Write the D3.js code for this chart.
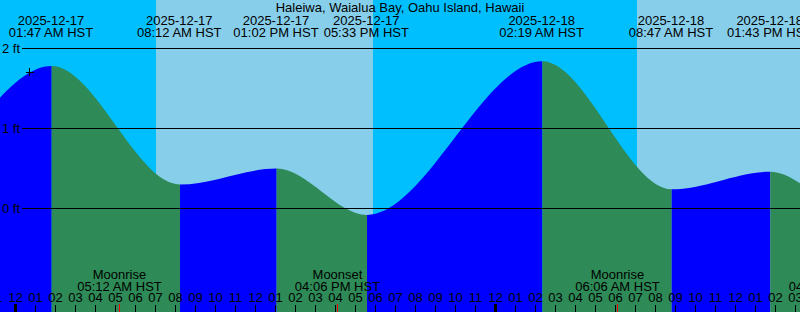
<!DOCTYPE html>
<html>
<head>
<meta charset="utf-8">
<script src="https://cdn.jsdelivr.net/npm/d3@7"></script>
<style>
  html, body { margin: 0; padding: 0; background: #00BFFF; }
  svg { display: block; }
  text { font-family: "Liberation Sans", Arial, Helvetica, sans-serif; font-size: 13px; fill: #000; }
</style>
</head>
<body>
<svg id="chart" width="800" height="312"></svg>
<script>
// ---------- data ----------
const title = "Haleiwa, Waialua Bay, Oahu Island, Hawaii";
const timeZone = "HST";
// Tide extremes (local time) and heights in feet; first/last two are just off the chart
const tideTimes = ["2025-12-16T12:00", "2025-12-16T17:11", "2025-12-17T01:47", "2025-12-17T08:12",
                   "2025-12-17T13:02", "2025-12-17T17:33", "2025-12-18T02:19", "2025-12-18T08:47",
                   "2025-12-18T13:43", "2025-12-18T17:55", "2025-12-19T02:50"];
const tideHeights = [0.55, -0.05, 1.78, 0.30, 0.50, -0.08, 1.84, 0.24, 0.46, -0.05, 1.85];
const labeledTideTimes = ["2025-12-17T01:47", "2025-12-17T08:12", "2025-12-17T13:02", "2025-12-17T17:33",
                          "2025-12-18T02:19", "2025-12-18T08:47", "2025-12-18T13:43"];
// Sun events
const sunTimes = ["2025-12-17T07:00", "2025-12-17T17:52", "2025-12-18T07:03", "2025-12-18T17:53"];
const sunKinds = ["rise", "set", "rise", "set"];
// Moon events
const moonTimes = ["2025-12-17T05:12", "2025-12-17T16:06", "2025-12-18T06:06", "2025-12-18T16:48"];
const moonKinds = ["Moonrise", "Moonset", "Moonrise", "Moonset"];
// Height levels drawn as lines
const levelTicks = [0, 1, 2];
// Current-time mark
const markTime = "2025-12-17T00:42";
const markHeight = 1.71;
// Visible window
const windowStart = "2025-12-16T23:12";
const windowEnd = "2025-12-18T15:12";

// ---------- setup ----------
const W = 800, H = 312;
const parse = d3.utcParse("%Y-%m-%dT%H:%M");
const fmtDate = d3.utcFormat("%Y-%m-%d");
const fmtTime = d3.utcFormat("%I:%M %p");
const fmtHour = d3.utcFormat("%I");

const colors = { night: "#00BFFF", day: "#87CEEB", rising: "#0000FF", falling: "#2E8B57", moon: "#FF0000" };

const t0 = parse(windowStart), t1 = parse(windowEnd);
const x = d3.scaleUtc().domain([t0, t1]).range([0, W]);
const y = d3.scaleLinear().domain([0, 2]).range([208.5, 48.5]);

const svg = d3.select("#chart");
const defs = svg.append("defs");

// ---------- day / night background ----------
const bounds = [t0, ...sunTimes.map(parse), t1].filter(d => d >= t0 && d <= t1);
bounds.sort((a, b) => a - b);
const sunIdx = sunTimes.map(parse);
svg.append("g").selectAll("rect")
  .data(d3.pairs(bounds))
  .join("rect")
  .attr("x", d => x(d[0]))
  .attr("width", d => x(d[1]) - x(d[0]))
  .attr("y", 0)
  .attr("height", H)
  .attr("fill", d => {
    // find last sun event at or before segment start
    let state = "night";
    sunIdx.forEach((s, i) => { if (s <= d[0]) state = sunKinds[i] === "rise" ? "day" : "night"; });
    return colors[state];
  })
  .attr("shape-rendering", "crispEdges");

// ---------- tide curve ----------
const tides = tideTimes.map((t, i) => ({ t: parse(t), h: tideHeights[i] }));
const area = d3.area()
  .x(d => x(d.t))
  .y0(H + 5)
  .y1(d => y(d.h))
  .curve(d3.curveMonotoneX);

const tideG = svg.append("g");
d3.pairs(tides).forEach((p, i) => {
  const id = "seg" + i;
  defs.append("clipPath").attr("id", id)
    .append("rect")
    .attr("x", x(p[0].t)).attr("width", x(p[1].t) - x(p[0].t))
    .attr("y", 0).attr("height", H + 10);
  tideG.append("path")
    .datum(tides)
    .attr("d", area)
    .attr("clip-path", `url(#${id})`)
    .attr("fill", p[1].h > p[0].h ? colors.rising : colors.falling);
});

// ---------- level lines ----------
const levelG = svg.append("g");
levelTicks.forEach(l => {
  levelG.append("line")
    .attr("x1", 22).attr("x2", W)
    .attr("y1", y(l)).attr("y2", y(l))
    .attr("stroke", "#000").attr("stroke-width", 1);
  levelG.append("text")
    .attr("x", 2).attr("y", y(l) + 4.5)
    .text(`${l} ft`);
});

// ---------- current mark ----------
const mx = Math.round(x(parse(markTime))), my = Math.round(y(markHeight));
svg.append("path")
  .attr("d", `M${mx - 4},${my + 0.5}H${mx + 4}M${mx - 0.5},${my - 4}V${my + 4}`)
  .attr("stroke", "#000").attr("stroke-width", 1).attr("fill", "none");

// ---------- title ----------
svg.append("text")
  .attr("x", W / 2).attr("y", 11.5)
  .attr("text-anchor", "middle")
  .text(title);

// ---------- tide labels ----------
const topG = svg.append("g").attr("text-anchor", "middle");
labeledTideTimes.map(parse).forEach(t => {
  const cx = x(t) - 0.7;
  topG.append("text").attr("x", cx).attr("y", 24.5).text(fmtDate(t));
  topG.append("text").attr("x", cx).attr("y", 36.5).text(`${fmtTime(t)} ${timeZone}`);
});

// ---------- hour ticks ----------
const hours = d3.utcHour.range(d3.utcHour.offset(t0, -1), d3.utcHour.offset(t1, 1));
const tickG = svg.append("g");
hours.forEach(h => {
  const px = Math.round(x(h));
  const isMidnight = h.getUTCHours() === 0;
  if (isMidnight) {
    tickG.append("rect").attr("x", px - 2).attr("width", 3).attr("y", 304).attr("height", 8).attr("fill", "#000");
  } else {
    tickG.append("line").attr("x1", px - 0.5).attr("x2", px - 0.5).attr("y1", 305).attr("y2", H)
      .attr("stroke", "#000").attr("stroke-width", 1);
  }
  tickG.append("text").attr("x", px - 0.5).attr("y", 302).attr("text-anchor", "middle").text(fmtHour(h));
});

// ---------- moon events ----------
const moonG = svg.append("g").attr("text-anchor", "middle");
moonTimes.map(parse).forEach((t, i) => {
  const px = Math.round(x(t));
  moonG.append("text").attr("x", px - 0.5).attr("y", 278.5).text(moonKinds[i]);
  moonG.append("text").attr("x", px - 0.5).attr("y", 290.5).text(`${fmtTime(t)} ${timeZone}`);
  moonG.append("line").attr("x1", px - 0.5).attr("x2", px - 0.5).attr("y1", 304).attr("y2", H)
    .attr("stroke", colors.moon).attr("stroke-width", 1);
});
</script>
</body>
</html>
